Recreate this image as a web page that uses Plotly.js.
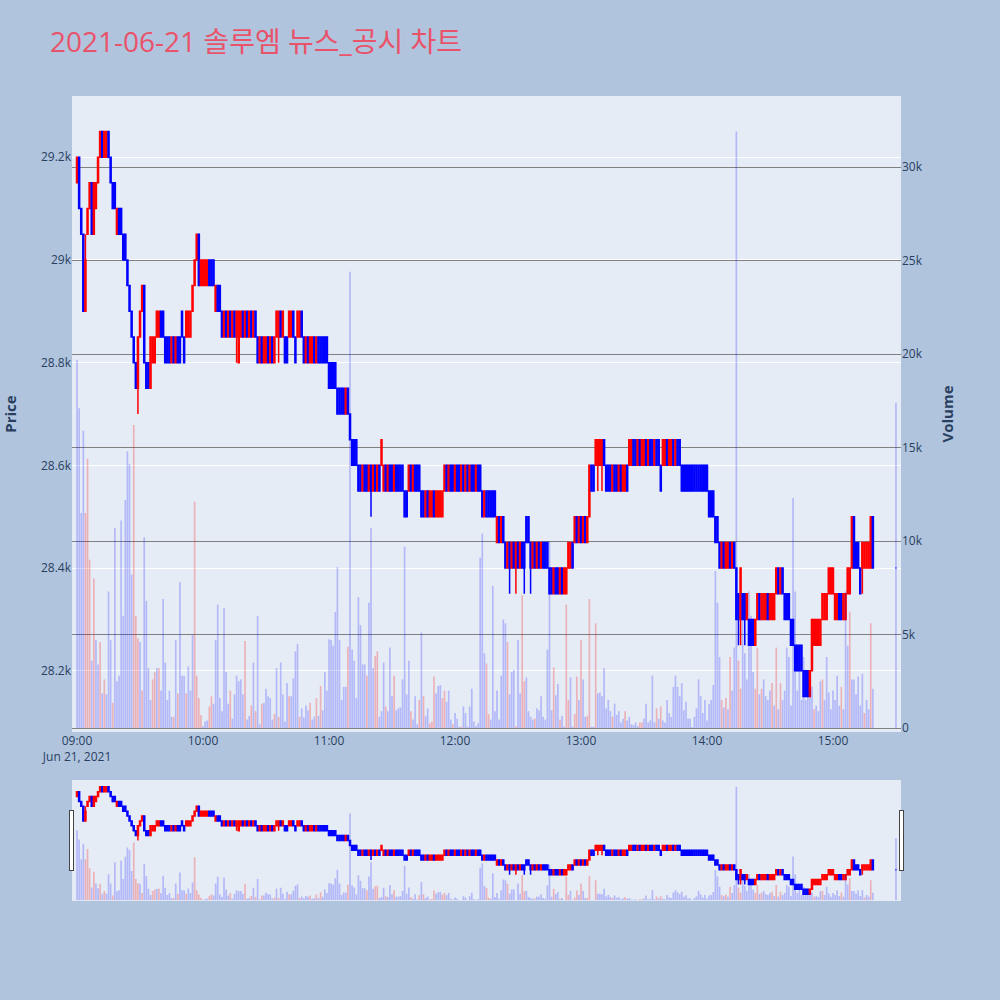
<!DOCTYPE html>
<html><head><meta charset="utf-8">
<script src="https://cdn.plot.ly/plotly-3.0.1.min.js"></script>
<style>html,body{margin:0;padding:0;background:#B0C4DE}</style>
</head><body><div id="chart" style="width:1000px;height:1000px"></div>
<script>
// Trading minutes: 09:00..15:19 continuous, then closing auction 15:30
const sessionDate = '2021-06-21';
const firstMinute = '09:00';
const lastContinuousMinute = '15:19';
const closingAuction = '15:30';

const openP = [
29150,29200,29100,29050,28900,29050,29100,29150,29050,29100,
29150,29200,29250,29200,29200,29250,29200,29150,29150,29050,
29100,29100,29050,29050,29000,28950,28900,28850,28800,28750,
28850,28900,28950,28800,28800,28750,28800,28800,28850,28850,
28900,28900,28850,28850,28850,28800,28850,28800,28850,28850,
28900,28850,28850,28850,28850,28900,28950,29000,29050,28950,
28950,28950,28950,29000,29000,29000,28900,28950,28950,28900,
28850,28900,28850,28900,28850,28900,28850,28800,28850,28900,
28850,28900,28850,28900,28850,28900,28850,28800,28850,28800,
28800,28850,28800,28850,28800,28850,28850,28900,28850,28850,
28850,28850,28850,28900,28850,28850,28850,28900,28850,28800,
28850,28800,28800,28850,28800,28850,28850,28850,28850,28850,
28800,28800,28800,28800,28750,28750,28750,28750,28700,28750,
28700,28650,28650,28650,28600,28600,28550,28600,28600,28550,
28600,28550,28600,28550,28600,28600,28550,28600,28550,28600,
28600,28550,28600,28600,28600,28600,28550,28550,28550,28600,
28550,28600,28600,28600,28550,28550,28500,28550,28500,28500,
28550,28500,28500,28500,28500,28550,28600,28550,28600,28600,
28550,28600,28600,28550,28600,28550,28600,28550,28600,28600,
28550,28600,28600,28550,28500,28550,28550,28550,28550,28550,
28450,28500,28450,28500,28450,28400,28450,28400,28450,28400,
28450,28400,28450,28450,28500,28500,28450,28400,28450,28400,
28450,28400,28450,28450,28450,28400,28400,28350,28400,28400,
28350,28400,28350,28350,28400,28400,28450,28450,28500,28450,
28500,28450,28500,28450,28500,28600,28600,28600,28600,28600,
28600,28650,28600,28600,28600,28550,28600,28600,28550,28600,
28550,28550,28600,28600,28600,28650,28650,28600,28650,28600,
28600,28650,28600,28650,28650,28600,28650,28650,28600,28600,
28600,28650,28600,28600,28650,28600,28650,28650,28600,28600,
28600,28600,28600,28600,28600,28600,28600,28600,28600,28600,
28600,28550,28550,28550,28500,28500,28450,28400,28450,28400,
28400,28450,28400,28450,28400,28350,28300,28350,28350,28300,
28300,28300,28300,28250,28300,28350,28300,28300,28300,28350,
28300,28300,28300,28350,28400,28350,28400,28350,28350,28350,
28300,28300,28250,28250,28250,28250,28200,28200,28200,28150,
28200,28250,28250,28250,28250,28300,28300,28300,28350,28350,
28350,28300,28300,28350,28350,28300,28300,28350,28350,28400,
28500,28450,28450,28400,28400,28400,28400,28400,28400,28500,
28400];

const highP = [
29200,29200,29100,29050,29050,29100,29150,29150,29150,29150,
29200,29250,29250,29250,29250,29250,29200,29150,29150,29100,
29100,29100,29050,29050,29000,28950,28900,28850,28800,28850,
28900,28950,28950,28800,28800,28850,28850,28850,28900,28900,
28900,28900,28850,28850,28850,28850,28850,28850,28850,28850,
28900,28850,28900,28900,28900,28950,29000,29050,29050,29000,
29000,29000,29000,29000,29000,29000,28950,28950,28950,28900,
28900,28900,28900,28900,28900,28900,28900,28900,28900,28900,
28900,28900,28900,28900,28900,28900,28850,28850,28850,28850,
28850,28850,28850,28850,28850,28900,28900,28900,28900,28850,
28850,28900,28900,28900,28850,28900,28900,28900,28850,28850,
28850,28850,28850,28850,28850,28850,28850,28850,28850,28850,
28800,28800,28800,28800,28750,28750,28750,28750,28750,28750,
28700,28650,28650,28650,28600,28600,28600,28600,28600,28600,
28600,28600,28600,28600,28600,28650,28600,28600,28600,28600,
28600,28600,28600,28600,28600,28600,28550,28550,28600,28600,
28600,28600,28600,28600,28550,28550,28550,28550,28550,28550,
28550,28550,28550,28550,28550,28600,28600,28600,28600,28600,
28600,28600,28600,28600,28600,28600,28600,28600,28600,28600,
28600,28600,28600,28550,28550,28550,28550,28550,28550,28550,
28500,28500,28500,28500,28450,28450,28450,28450,28450,28450,
28450,28450,28450,28450,28500,28500,28450,28450,28450,28450,
28450,28450,28450,28450,28450,28400,28400,28400,28400,28400,
28400,28400,28400,28400,28450,28450,28450,28500,28500,28500,
28500,28500,28500,28500,28600,28600,28600,28650,28650,28650,
28650,28650,28600,28600,28600,28600,28600,28600,28600,28600,
28600,28600,28600,28650,28650,28650,28650,28650,28650,28650,
28650,28650,28650,28650,28650,28650,28650,28650,28600,28650,
28650,28650,28650,28650,28650,28650,28650,28650,28600,28600,
28600,28600,28600,28600,28600,28600,28600,28600,28600,28600,
28600,28550,28550,28550,28500,28500,28450,28450,28450,28450,
28450,28450,28450,28450,28400,28350,28400,28350,28350,28350,
28300,28300,28300,28300,28350,28350,28350,28350,28350,28350,
28350,28350,28350,28400,28400,28400,28400,28350,28350,28350,
28300,28300,28250,28250,28250,28250,28200,28200,28200,28200,
28300,28300,28300,28300,28300,28350,28350,28350,28400,28400,
28400,28350,28350,28350,28350,28350,28350,28400,28400,28500,
28500,28450,28450,28400,28450,28450,28450,28450,28500,28500,
28400];

const lowP = [
29150,29100,29050,28900,28900,29050,29100,29050,29050,29100,
29150,29200,29200,29200,29200,29200,29150,29100,29100,29050,
29050,29050,29000,29000,28950,28900,28850,28800,28750,28700,
28850,28900,28800,28750,28750,28750,28800,28800,28850,28850,
28850,28850,28800,28800,28800,28800,28800,28800,28800,28800,
28850,28800,28850,28850,28850,28900,28950,29000,28950,28950,
28950,28950,28950,28950,28950,28950,28900,28900,28900,28850,
28850,28850,28850,28850,28850,28850,28800,28800,28850,28850,
28850,28850,28850,28850,28850,28850,28800,28800,28800,28800,
28800,28800,28800,28800,28800,28850,28800,28850,28850,28800,
28800,28850,28850,28850,28800,28850,28850,28850,28800,28800,
28800,28800,28800,28800,28800,28800,28800,28800,28800,28800,
28750,28750,28750,28750,28700,28700,28700,28700,28700,28700,
28650,28600,28600,28600,28550,28550,28550,28550,28550,28550,
28500,28550,28550,28550,28550,28600,28550,28550,28550,28550,
28550,28550,28550,28550,28550,28550,28500,28500,28550,28550,
28550,28550,28550,28550,28500,28500,28500,28500,28500,28500,
28500,28500,28500,28500,28500,28550,28550,28550,28550,28550,
28550,28550,28550,28550,28550,28550,28550,28550,28550,28550,
28550,28550,28550,28500,28500,28500,28500,28500,28500,28500,
28450,28450,28450,28450,28400,28400,28350,28400,28400,28350,
28400,28400,28400,28350,28450,28450,28350,28400,28400,28400,
28400,28400,28400,28400,28400,28350,28350,28350,28350,28350,
28350,28350,28350,28350,28400,28400,28400,28450,28450,28450,
28450,28450,28450,28450,28500,28550,28550,28600,28550,28600,
28550,28600,28550,28550,28550,28550,28550,28550,28550,28550,
28550,28550,28550,28600,28600,28600,28600,28600,28600,28600,
28600,28600,28600,28600,28600,28600,28600,28600,28550,28600,
28600,28600,28600,28600,28600,28600,28600,28600,28550,28550,
28550,28550,28550,28550,28550,28550,28550,28550,28550,28550,
28550,28500,28500,28500,28450,28450,28400,28400,28400,28400,
28400,28400,28400,28400,28300,28250,28250,28300,28250,28300,
28250,28250,28250,28250,28300,28300,28300,28300,28300,28300,
28300,28300,28300,28350,28350,28350,28350,28300,28300,28300,
28250,28250,28200,28200,28200,28200,28150,28150,28150,28150,
28200,28250,28250,28250,28250,28300,28300,28300,28350,28350,
28350,28300,28300,28300,28300,28300,28300,28350,28350,28400,
28400,28400,28400,28350,28350,28400,28400,28400,28400,28400,
28400];

const closeP = [
29200,29100,29050,28900,29000,29100,29150,29050,29150,29150,
29200,29250,29200,29250,29250,29200,29150,29100,29100,29100,
29050,29050,29000,29000,28950,28900,28850,28800,28750,28850,
28900,28950,28800,28750,28750,28850,28850,28850,28900,28900,
28850,28850,28800,28800,28800,28850,28800,28850,28800,28800,
28850,28800,28900,28900,28900,28950,29000,29050,28950,29000,
29000,29000,29000,28950,28950,28950,28950,28900,28900,28850,
28900,28850,28900,28850,28900,28850,28900,28900,28900,28850,
28900,28850,28900,28850,28900,28850,28800,28850,28800,28850,
28850,28800,28850,28800,28850,28900,28900,28850,28900,28800,
28800,28900,28900,28850,28800,28900,28900,28850,28800,28850,
28800,28850,28850,28800,28850,28800,28800,28800,28800,28800,
28750,28750,28750,28750,28700,28700,28700,28700,28750,28700,
28650,28600,28600,28600,28550,28550,28600,28550,28550,28600,
28550,28600,28550,28600,28550,28650,28600,28550,28600,28550,
28550,28600,28550,28550,28550,28550,28500,28500,28600,28550,
28600,28550,28550,28550,28500,28500,28550,28500,28550,28550,
28500,28550,28550,28550,28550,28600,28550,28600,28550,28550,
28600,28550,28550,28600,28550,28600,28550,28600,28550,28550,
28600,28550,28550,28500,28550,28500,28500,28500,28500,28500,
28500,28450,28500,28450,28400,28450,28400,28450,28400,28450,
28400,28450,28400,28400,28450,28450,28400,28450,28400,28450,
28400,28450,28400,28400,28400,28350,28350,28400,28350,28350,
28400,28350,28400,28400,28450,28450,28400,28500,28450,28500,
28450,28500,28450,28500,28600,28550,28550,28650,28650,28650,
28650,28600,28550,28550,28550,28600,28550,28550,28600,28550,
28600,28600,28550,28650,28650,28600,28600,28650,28600,28650,
28650,28600,28650,28600,28600,28650,28600,28600,28550,28650,
28650,28600,28650,28650,28600,28650,28600,28600,28550,28550,
28550,28550,28550,28550,28550,28550,28550,28550,28550,28550,
28550,28500,28500,28500,28450,28450,28400,28450,28400,28450,
28450,28400,28450,28400,28300,28300,28400,28300,28300,28350,
28250,28250,28250,28300,28350,28300,28350,28350,28350,28300,
28350,28350,28350,28400,28350,28400,28350,28300,28300,28300,
28250,28250,28200,28200,28200,28200,28150,28150,28150,28200,
28300,28300,28300,28300,28300,28350,28350,28350,28400,28400,
28400,28350,28350,28300,28300,28350,28350,28400,28400,28500,
28400,28400,28400,28350,28450,28450,28450,28450,28500,28400,
28400];

const volume = [
19700,17100,11500,15900,11500,14400,9000,3600,8000,4700,
3400,4600,1850,2600,1800,7300,4700,1350,10700,2500,
2800,11100,6000,12200,14800,14100,8200,16200,6000,4800,
4600,2000,10200,6800,3200,1500,2600,3000,3200,3200,
2000,6900,3500,1500,2000,600,600,4700,1850,7800,
2800,2800,1850,3300,2000,5000,12100,2800,1600,700,
100,350,400,1150,1700,1300,4700,6600,1600,900,
6400,3000,1300,2000,500,1800,2800,2500,2600,1800,
4650,450,650,1200,3500,900,6000,200,1300,1350,
2100,1700,1600,450,750,3200,600,3500,1800,350,
2400,1700,1700,2650,4100,4500,600,1050,570,1200,
950,1350,450,600,1600,650,2250,950,3000,2000,
4750,4700,4400,6200,8600,4700,1500,2200,2200,4350,
24400,4200,3600,1600,7000,5500,3400,3400,2800,6700,
10700,3200,3850,4100,600,900,3500,1150,900,4300,
1700,2800,950,1050,1100,2600,9700,1800,3600,900,
450,1700,200,1500,5100,1700,650,1050,250,350,
2750,1850,2250,2300,1600,2000,1400,2000,450,200,
800,500,70,70,1150,800,70,1150,2100,350,
100,250,9100,10400,4000,3450,750,450,7600,900,
2000,450,2800,5800,5600,4600,1800,3000,3100,100,
4700,1850,7100,2500,2700,900,600,450,500,1050,
950,1700,600,450,4200,10000,950,3250,1750,2350,
450,650,70,6600,1500,2700,70,750,2750,1500,
4700,2600,600,650,6900,70,70,5600,1850,1900,
1700,3200,1050,1500,900,600,1300,700,900,300,
500,900,400,600,200,150,300,100,300,300,
500,1300,300,400,2800,300,1050,500,1150,400,
300,1500,800,600,2200,2800,2200,1700,2400,950,
1400,500,500,50,600,1050,2600,1700,800,1500,
400,1300,1500,2300,8400,6700,3800,1500,1100,1600,
1000,3800,2000,4300,31900,3600,2100,5900,4000,2600,
7300,6000,3000,2100,4300,1800,2100,2600,1700,1500,
2000,2400,1200,4300,1000,2400,1500,2000,4300,3800,
1200,12300,7300,2000,4000,1500,3800,1500,2600,2000,
2200,1000,1200,900,2500,2600,1500,3800,1900,1000,
2000,1500,2800,1200,2200,1000,7300,4400,6200,2600,
2600,1800,2750,1200,2900,800,1500,1000,5600,2100,
17400];

// r = red volume bar, b = blue volume bar (per minute, same order)
const volumeSide =
 "bbbbrrrbrb" + "brbrbbbrbb" + "bbbbbbbrrr" + "brbbbbrrbr" + "bbbbbbrbrb" +
 "bbrbbbrrrr" + "bbbrrbbbbb" + "bbbrbbbbbb" + "rbbrbrbbrb" + "bbbbrbrbbb" +
 "brbbbbrbbb" + "brbbrbrbbb" + "bbbbbbbbbr" + "bbbbbbbbrb" + "bbrrbbbrbb" +
 "brbbbbbbbr" + "bbbrbrbbrr" + "rbbbrrbbbr" + "bbbrbbbbbb" + "bbbbbrrbbb" +
 "bbbbbrbbbr" + "bbrrbbbbrb" + "bbbbbbbrbb" + "rbbrrbbrrb" + "rbbrrbbrbb" +
 "bbbbbrbbbb" + "brbbbbbbrr" + "bbbbbbrbrb" + "bbbbbbbbbb" + "bbbbbbbbbb" +
 "bbbbbbbrbr" + "brbbbrrbbb" + "bbbrrbrbbb" + "brbrbrbbbb" + "bbbbbbbbbb" +
 "brbbbrbbbb" + "bbbbrbbbrb" + "bbbbbrbbrb" + "b";

function pad(n){ return (n < 10 ? '0' : '') + n; }
function toStamp(h, m){ return sessionDate + ' ' + pad(h) + ':' + pad(m); }
const times = [];
{
  const [h0, m0] = firstMinute.split(':').map(Number);
  const [h1, m1] = lastContinuousMinute.split(':').map(Number);
  for (let t = h0 * 60 + m0; t <= h1 * 60 + m1; t++) times.push(toStamp(Math.floor(t / 60), t % 60));
  const [hc, mc] = closingAuction.split(':').map(Number);
  times.push(toStamp(hc, mc));
}

const volColors = volumeSide.split('').map(c => c === 'r' ? 'rgba(255,0,0,0.25)' : 'rgba(0,0,255,0.22)');

const candle = {
  type: 'candlestick', x: times, open: openP, high: highP, low: lowP, close: closeP,
  increasing: {line: {color: 'red', width: 1.5}, fillcolor: 'red'},
  decreasing: {line: {color: 'blue', width: 1.5}, fillcolor: 'blue'},
  name: 'Price', yaxis: 'y', hoverinfo: 'skip'
};
const bars = {
  type: 'bar', x: times, y: volume, yaxis: 'y2', name: 'Volume',
  marker: {color: volColors, line: {width: 0}}, hoverinfo: 'skip'
};

const xRange = [sessionDate + ' 08:57:36', sessionDate + ' 15:32:24'];
const layout = {
  width: 1000, height: 1000,
  paper_bgcolor: '#B0C4DE', plot_bgcolor: '#E5ECF6',
  font: {family: '"Open Sans", "Noto Sans CJK KR", sans-serif', color: '#2a3f5f', size: 12},
  title: {text: '2021-06-21 솔루엠 뉴스_공시 차트', x: 0.05, xanchor: 'left', xref: 'container',
          y: 0.958, yanchor: 'middle', font: {size: 28, color: '#E9536A'}},
  margin: {l: 72, r: 99, t: 96, b: 100},
  showlegend: false,
  xaxis: {type: 'date', range: xRange, showgrid: false, zeroline: false,
          rangeslider: {visible: true, thickness: 0.15, range: xRange}},
  yaxis: {title: {text: '<b>Price</b>', font: {size: 15}, standoff: 30}, range: [28081, 29319], dtick: 200,
          gridcolor: 'white', zeroline: false},
  yaxis2: {title: {text: '<b>Volume</b>', font: {size: 15}, standoff: 20}, overlaying: 'y', side: 'right',
           range: [-214, 33800], dtick: 5000, gridcolor: 'gray', gridwidth: 1, zeroline: false, showgrid: true}
};
Plotly.newPlot('chart', [candle, bars], layout, {staticPlot: true, displayModeBar: false});
</script></body></html>
